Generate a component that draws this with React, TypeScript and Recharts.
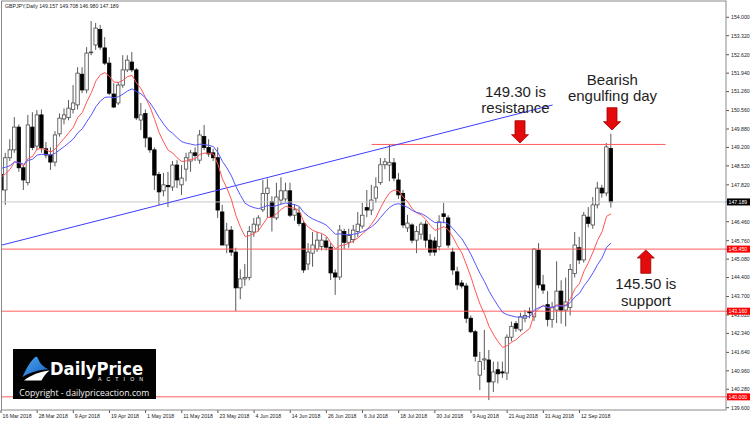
import React from 'react';
import { ComposedChart, Bar, Line, XAxis, YAxis, ReferenceLine } from 'recharts';

// ---- data (GBPJPY daily, 16 Mar 2018 .. 21 Sep 2018) ----
const opens = [
  148.2, 147.63, 148.82, 149.11, 149.95, 148.45, 147.9, 149.95, 149.25, 150.4,
  149.15, 148.92, 148.66, 149.7, 150.25, 150.3, 150.6, 150.77, 151.9, 151.32,
  152.7, 152.98, 153.55, 152.87, 152.31, 151.17, 150.84, 151.5, 152.06, 152.35,
  152.06, 150.21, 150.45, 149.55, 149.11, 148.2, 147.6, 147.8, 147.74, 148.55,
  147.82, 148.4, 148.7, 149.0, 148.73, 149.6, 149.2, 149.0, 148.82, 146.82,
  145.6, 146.15, 145.34, 144.02, 144.35, 144.4, 146.08, 146.34, 146.9, 147.5,
  147.2, 146.6, 147.26, 147.3, 147.6, 146.7, 146.78, 146.4, 144.9, 145.3,
  145.45, 145.55, 145.75, 145.52, 144.57, 144.42, 146.1, 145.7, 145.8, 146.1,
  146.3, 146.98, 146.89, 147.33, 147.9, 148.56, 148.55, 148.63, 148.0, 147.5,
  146.23, 146.34, 145.78, 146.0, 146.37, 145.78, 145.75, 145.55, 146.75, 146.6,
  145.34, 144.61, 144.2, 144.09, 142.9, 142.4, 140.8, 141.36, 141.36, 140.55,
  141.0, 140.92, 140.88, 142.2, 142.7, 142.47, 142.9, 143.15, 142.95, 145.41,
  144.13, 143.4, 142.85, 143.2, 143.9, 143.2, 143.3, 144.55, 145.5, 145.05,
  146.63, 146.34, 147.08, 147.7, 147.52, 149.157,
];
const highs = [
  148.4, 149.0, 149.5, 150.32, 150.05, 148.55, 150.4, 150.5, 150.58, 150.6,
  149.4, 149.2, 149.8, 150.45, 150.64, 150.95, 151.5, 152.16, 152.16, 152.9,
  153.86, 153.79, 153.72, 153.27, 152.53, 151.57, 151.61, 152.6, 152.6, 152.72,
  152.13, 150.84, 150.6, 149.6, 149.2, 148.3, 148.26, 148.3, 148.7, 148.73,
  148.55, 149.0, 149.11, 149.2, 149.84, 150.03, 149.5, 149.15, 149.2, 147.08,
  146.42, 146.3, 145.5, 144.7, 144.9, 146.3, 146.6, 146.7, 148.0, 148.05,
  147.4, 147.9, 148.1, 147.9, 147.9, 147.1, 147.0, 146.5, 145.67, 146.08,
  146.08, 146.0, 145.9, 145.67, 144.7, 146.34, 146.2, 146.2, 146.34, 146.82,
  147.15, 147.63, 147.82, 148.1, 148.81, 148.81, 149.29, 148.81, 148.26, 147.63,
  146.71, 146.4, 146.3, 146.45, 146.5, 146.0, 145.9, 146.7, 147.15, 146.7,
  145.5, 144.8, 144.31, 144.2, 143.0, 142.47, 141.66, 142.47, 141.73, 141.3,
  141.3, 141.3, 142.3, 142.78, 142.8, 143.1, 143.2, 143.3, 145.48, 145.67,
  144.5, 143.9, 143.5, 145.0, 144.3, 144.4, 144.9, 146.08, 145.9, 146.82,
  147.0, 147.37, 147.93, 147.82, 149.36, 149.708,
];
const lows = [
  147.26, 147.08, 148.7, 149.0, 148.3, 147.63, 147.8, 149.1, 149.1, 149.0,
  148.8, 148.37, 148.5, 149.6, 150.05, 150.2, 150.45, 150.6, 151.2, 151.2,
  152.6, 152.8, 152.8, 152.24, 151.13, 150.65, 150.76, 151.4, 151.98, 151.98,
  150.21, 149.84, 149.2, 149.0, 147.63, 147.08, 147.4, 147.0, 147.6, 147.7,
  147.45, 147.95, 148.3, 148.7, 148.6, 149.1, 148.85, 148.7, 146.6, 145.67,
  145.3, 145.2, 143.16, 143.6, 144.1, 144.3, 145.9, 146.1, 146.82, 146.6,
  146.1, 146.52, 147.1, 147.2, 146.63, 146.5, 146.3, 144.57, 144.68, 144.8,
  145.35, 145.4, 145.4, 144.31, 143.76, 144.31, 145.45, 145.5, 145.67, 145.9,
  146.2, 146.63, 146.7, 147.15, 147.82, 148.4, 147.95, 147.95, 147.3, 146.23,
  146.08, 145.67, 145.3, 145.8, 145.5, 145.2, 145.2, 145.4, 146.4, 145.5,
  144.5, 143.95, 144.0, 142.72, 142.35, 141.3, 140.25, 140.99, 139.88, 140.18,
  140.5, 140.7, 140.62, 142.05, 142.4, 142.4, 142.75, 142.9, 142.8, 144.0,
  143.8, 142.6, 142.55, 142.72, 142.7, 142.6, 143.0, 144.4, 144.9, 144.95,
  146.25, 146.2, 146.95, 147.35, 147.4, 146.98,
];
const closes = [
  147.63, 148.82, 149.11, 149.95, 148.45, 148.0, 150.03, 149.2, 150.4, 149.18,
  148.92, 148.66, 149.66, 150.28, 150.4, 150.65, 150.84, 151.94, 151.32, 152.68,
  152.72, 153.6, 152.9, 152.31, 151.2, 150.69, 151.5, 152.06, 152.42, 152.06,
  150.29, 150.4, 149.55, 149.11, 148.18, 147.56, 147.82, 147.75, 148.55, 148.0,
  148.07, 148.82, 149.0, 148.9, 149.66, 149.2, 148.96, 148.82, 146.89, 145.6,
  146.15, 145.34, 144.02, 144.35, 144.4, 146.1, 146.37, 146.6, 147.5, 147.7,
  146.63, 147.37, 147.6, 147.6, 146.7, 146.9, 146.4, 144.68, 145.34, 145.6,
  145.78, 145.78, 145.52, 144.57, 144.42, 146.15, 145.7, 145.95, 146.15, 146.37,
  146.7, 146.89, 147.26, 147.74, 148.56, 148.67, 148.65, 148.07, 147.45, 146.34,
  146.41, 145.78, 146.1, 146.37, 145.78, 145.34, 145.34, 146.45, 146.65, 145.6,
  144.68, 144.13, 144.09, 142.9, 142.4, 141.5, 141.3, 141.4, 140.55, 140.92,
  140.85, 140.88, 142.2, 142.6, 142.53, 142.95, 143.0, 143.1, 145.45, 144.13,
  143.94, 142.85, 143.3, 143.9, 143.2, 143.5, 144.7, 145.6, 145.05, 146.7,
  146.4, 147.08, 147.7, 147.52, 149.22, 147.189,
];

// x-axis tick positions (bar numbers) and their labels
const dateTickBars = [0, 8, 16, 24, 32, 40, 48, 56, 64, 72, 80, 88, 96, 104, 112, 120, 128];
const dateTickLabels = [
  '16 Mar 2018', '28 Mar 2018', '9 Apr 2018', '19 Apr 2018', '1 May 2018', '11 May 2018',
  '23 May 2018', '4 Jun 2018', '14 Jun 2018', '26 Jun 2018', '6 Jul 2018', '18 Jul 2018',
  '30 Jul 2018', '9 Aug 2018', '21 Aug 2018', '31 Aug 2018', '12 Sep 2018',
];
// y-axis price ticks
const priceTicks = [
  154.0, 153.32, 152.62, 151.94, 151.26, 150.56, 149.88, 149.2, 148.52, 147.82,
  146.46, 145.76, 145.08, 144.4, 143.7, 143.02, 142.34, 141.64, 140.96, 140.28, 139.6,
];
const currentPrice = 147.189;
const horizontalLevels = [145.45, 143.16, 140.0];
const resistanceLevel = 149.31;
const resistanceFromBar = 82;
const resistanceToBar = 147.05;
const trendStart = { bar: 0.22, price: 145.6 };
const trendEnd = { bar: 122.06, price: 150.765 };

// moving averages (exponential) of the closes, seeded with the value read at the first bar
const fastPeriod = 10;
const slowPeriod = 20;
const fastSeed = 148.1;
const slowSeed = 148.43;

function ema(values: number[], period: number, seed: number): number[] {
  const k = 2 / (period + 1);
  const out: number[] = [];
  let prev = seed;
  values.forEach((v, i) => {
    prev = i === 0 ? seed : prev + k * (v - prev);
    out.push(prev);
  });
  return out;
}

const fastEma = ema(closes, fastPeriod, fastSeed);
const slowEma = ema(closes, slowPeriod, slowSeed);

const rows = closes.map((c, i) => ({
  i,
  o: opens[i],
  h: highs[i],
  l: lows[i],
  c,
  range: [lows[i], highs[i]],
  fast: fastEma[i],
  slow: slowEma[i],
}));

const AXIS_FONT = 'Liberation Sans, Arial, sans-serif';

const Candle = (props: any) => {
  const { x, y, width, height, payload } = props;
  if (x == null || y == null || !payload) return null;
  const y0 = Math.min(y, y + height);
  const hh = Math.abs(height);
  const { o, h, l, c } = payload;
  const span = h - l;
  const k = span > 0 ? hh / span : 0;
  const yOf = (p: number) => y0 + (h - p) * k;
  const cx = x + width / 2;
  const top = yOf(Math.max(o, c));
  const bot = yOf(Math.min(o, c));
  const bull = c >= o;
  return (
    <g>
      <line x1={cx} x2={cx} y1={y0} y2={y0 + hh} stroke="#5a5a5a" strokeWidth={1} />
      <rect
        x={cx - 1.7}
        y={top}
        width={3.4}
        height={Math.max(bot - top, 0.8)}
        fill={bull ? '#ffffff' : '#000000'}
        stroke={bull ? '#4a4a4a' : '#000000'}
        strokeWidth={0.8}
      />
    </g>
  );
};

const DateTick = (props: any) => {
  const { x, y, payload } = props;
  const k = dateTickBars.indexOf(payload.value);
  return (
    <text x={x + 1.5} y={y + 4.6} fontSize={5.2} fontFamily={AXIS_FONT} fill="#222" textAnchor="start">
      {k >= 0 ? dateTickLabels[k] : ''}
    </text>
  );
};

const PriceTick = (props: any) => {
  const { x, y, payload } = props;
  const v = payload.value as number;
  const isCurrent = Math.abs(v - currentPrice) < 1e-6;
  const isLevel = horizontalLevels.some((lv) => Math.abs(lv - v) < 1e-6);
  if (isCurrent || isLevel) {
    return (
      <g>
        <rect x={x - 2} y={y - 3.5} width={23} height={7} fill={isCurrent ? '#000' : '#ff0000'} />
        <text x={x - 0.5} y={y + 1.9} fontSize={5.2} fontFamily={AXIS_FONT} fill="#fff">
          {v.toFixed(3)}
        </text>
      </g>
    );
  }
  return (
    <text x={x + 2} y={y + 1.9} fontSize={5.2} fontFamily={AXIS_FONT} fill="#222">
      {v.toFixed(3)}
    </text>
  );
};

const downArrow = (cx: number, top: number, shaftEnd: number, tip: number) =>
  `M ${cx - 5} ${top} L ${cx + 5} ${top} L ${cx + 5} ${shaftEnd} L ${cx + 8.5} ${shaftEnd} L ${cx} ${tip} L ${cx - 8.5} ${shaftEnd} L ${cx - 5} ${shaftEnd} Z`;
const upArrow = (cx: number, tip: number, headBase: number, bottom: number) =>
  `M ${cx} ${tip} L ${cx + 8.5} ${headBase} L ${cx + 5} ${headBase} L ${cx + 5} ${bottom} L ${cx - 5} ${bottom} L ${cx - 5} ${headBase} L ${cx - 8.5} ${headBase} Z`;

const NOTE_FONT = 'Liberation Sans, Arial, sans-serif';

export default function App() {
  // plain ticks first, boxed price tags last so the tags sit on top
  const allPriceTicks = [...priceTicks, currentPrice, ...horizontalLevels];
  return (
    <div style={{ position: 'absolute', left: 0, top: 0, width: 750, height: 422, background: '#fff', overflow: 'hidden' }}>
      <ComposedChart
        width={750}
        height={422}
        data={rows}
        margin={{ top: 1, right: 0, bottom: 0, left: 1 }}
      >
        <XAxis
          type="number"
          dataKey="i"
          domain={[0, 160.42]}
          allowDataOverflow
          ticks={dateTickBars}
          interval={0}
          height={12}
          axisLine={false}
          tickSize={3}
          tickMargin={0}
          tickLine={{ stroke: '#555' }}
          tick={<DateTick />}
        />
        <YAxis
          orientation="right"
          type="number"
          domain={[139.515, 154.601]}
          allowDataOverflow
          ticks={allPriceTicks}
          interval={0}
          width={24}
          axisLine={false}
          tickSize={3}
          tickMargin={0}
          tickLine={{ stroke: '#555' }}
          tick={<PriceTick />}
        />
        <ReferenceLine y={currentPrice} stroke="#c8c8c8" strokeWidth={1} />
        {horizontalLevels.map((lv) => (
          <ReferenceLine key={lv} y={lv} stroke="#ff5c5c" strokeWidth={1} />
        ))}
        <ReferenceLine
          segment={[
            { x: resistanceFromBar, y: resistanceLevel },
            { x: resistanceToBar, y: resistanceLevel },
          ]}
          stroke="#ff5c5c"
          strokeWidth={1}
        />
        <ReferenceLine
          segment={[
            { x: trendStart.bar, y: trendStart.price },
            { x: trendEnd.bar, y: trendEnd.price },
          ]}
          stroke="#3d3dff"
          strokeWidth={1}
        />
        <Bar dataKey="range" barSize={4} isAnimationActive={false} shape={(p: any) => <Candle {...p} />} />
        <Line type="linear" dataKey="fast" stroke="#ff5555" strokeWidth={1} dot={false} isAnimationActive={false} />
        <Line type="linear" dataKey="slow" stroke="#5555ff" strokeWidth={1} dot={false} isAnimationActive={false} />
      </ComposedChart>
      <svg width={750} height={422} style={{ position: 'absolute', left: 0, top: 0, pointerEvents: 'none' }}>
        <rect x={1.5} y={1} width={724.5} height={409} fill="none" stroke="#8a8a8a" strokeWidth={1} />
        <text x={5} y={8} fontSize={5.2} fontFamily={AXIS_FONT} fill="#222">
          GBPJPY,Daily  149.157 149.708 146.980 147.189
        </text>

        <g fontFamily={NOTE_FONT} fontSize={15} fill="#1e1e1e" textAnchor="middle">
          <text x={515.5} y={96.7}>149.30 is</text>
          <text x={515.5} y={112.5}>resistance</text>
          <text x={612.3} y={85}>Bearish</text>
          <text x={612.5} y={101}>engulfing day</text>
          <text x={645.8} y={288.5}>145.50 is</text>
          <text x={646} y={305.5}>support</text>
        </g>

        <g fill="#e30b0b" stroke="#a00000" strokeWidth={0.8}>
          <path d={downArrow(520, 120.7, 134.7, 143)} />
          <path d={downArrow(612, 107.7, 121.7, 130)} />
          <path d={upArrow(645.8, 250, 258, 273.3)} />
        </g>

        <g>
          <rect x={13} y={349} width={143} height={50} fill="#020202" />
          <defs>
            <linearGradient id="dpaBlue" x1="0" y1="0" x2="1" y2="1">
              <stop offset="0" stopColor="#4aa8f0" />
              <stop offset="1" stopColor="#1660c4" />
            </linearGradient>
          </defs>
          <path
            d="M 22.5 377 C 25 371, 29 363, 34.5 357.5 C 36 356.2, 37.5 356.8, 38 358.5 C 39.5 363, 43 367, 48.5 369.5 C 40 369.5, 30 372, 22.5 377 Z"
            fill="url(#dpaBlue)"
          />
          <path d="M 24 380.5 C 31 375, 40 371.5, 49.5 370.5 C 46 373.5, 43 377, 41.5 380.5 Z" fill="#ffffff" />
          <text
            x={50}
            y={374.6}
            fontSize={18}
            fontWeight="bold"
            fontFamily="DejaVu Sans, Liberation Sans, sans-serif"
            fill="#ffffff"
            textLength={93}
            lengthAdjust="spacingAndGlyphs"
          >
            DailyPrice
          </text>
          <text
            x={98}
            y={381}
            fontSize={5.2}
            fontFamily="Liberation Sans, Arial, sans-serif"
            fill="#ffffff"
            textLength={45}
            lengthAdjust="spacing"
          >
            ACTION
          </text>
          <text
            x={19.3}
            y={395.5}
            fontSize={9.5}
            fontFamily="Open Sans, Liberation Sans, sans-serif"
            fill="#f2f2f2"
            textLength={130}
            lengthAdjust="spacingAndGlyphs"
          >
            Copyright - dailypriceaction.com
          </text>
        </g>
      </svg>
    </div>
  );
}
